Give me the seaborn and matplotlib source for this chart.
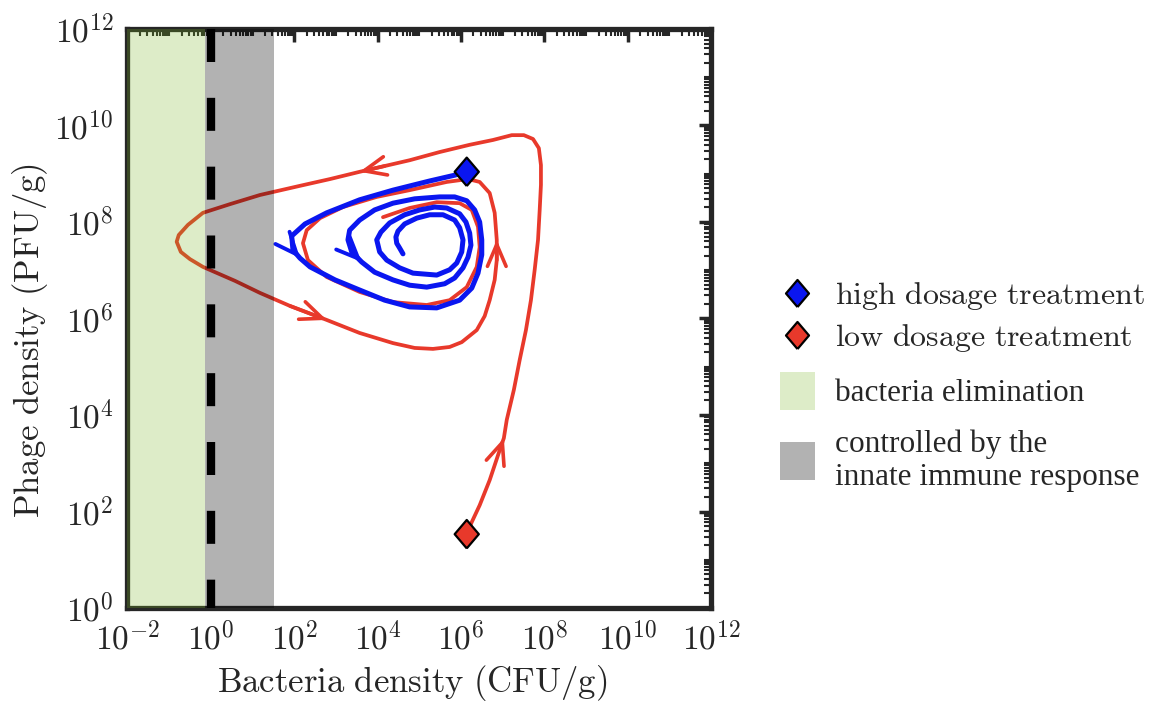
import numpy as np
import matplotlib
matplotlib.use("Agg")
import matplotlib.pyplot as plt
import seaborn as sns
from matplotlib.ticker import FixedLocator, LogLocator, FuncFormatter, NullFormatter
from matplotlib.lines import Line2D
from matplotlib.patches import Patch

# ---------------- data (log10 values) ----------------
red_logB = [6.14, 6.26, 6.45, 6.69, 6.93, 7.03, 7.10, 7.27, 7.41, 7.56,
            7.68, 7.77, 7.85, 7.89, 7.92, 7.92, 7.87, 7.73, 7.51, 7.22,
            6.77, 6.21, 5.49, 4.77, 4.17, 3.57, 2.86, 2.14, 1.18, 0.46,
            -0.19, -0.55, -0.77, -0.82, -0.72, -0.50, -0.19, 0.58, 1.18, 1.90,
            2.78, 3.57, 4.37, 4.89, 5.33, 5.73, 6.02, 6.38, 6.57, 6.69,
            6.81, 6.86, 6.86, 6.81, 6.69, 6.45, 6.17, 5.66, 4.77, 3.98,
            3.17, 2.62, 2.30, 2.21, 2.33, 2.78, 3.57, 4.37, 5.18, 5.73,
            6.14, 6.38, 6.45, 6.41, 6.26, 5.97, 5.42, 4.77, 4.13]
red_logP = [1.53, 1.78, 2.13, 2.65, 3.27, 3.52, 3.90, 4.52, 5.14, 5.76,
            6.38, 7.01, 7.63, 8.25, 8.77, 9.18, 9.53, 9.72, 9.80, 9.80,
            9.70, 9.60, 9.45, 9.28, 9.16, 9.04, 8.89, 8.75, 8.56, 8.37,
            8.19, 7.94, 7.73, 7.59, 7.38, 7.23, 7.07, 6.78, 6.53, 6.26,
            5.97, 5.70, 5.49, 5.39, 5.37, 5.41, 5.51, 5.76, 6.05, 6.38,
            6.80, 7.21, 7.63, 8.19, 8.60, 8.83, 8.89, 8.83, 8.66, 8.52,
            8.31, 8.08, 7.83, 7.56, 7.21, 6.86, 6.55, 6.34, 6.28, 6.38,
            6.65, 7.07, 7.48, 7.90, 8.25, 8.39, 8.41, 8.29, 8.10]
red_arrow_idx = [5, 25, 40, 52]

blue_logB = [6.14, 5.85, 5.25, 4.37, 3.57, 2.78, 2.26, 1.94, 1.97, 2.14,
             2.38, 2.98, 3.57, 4.17, 4.77, 5.42, 5.97, 6.26, 6.41, 6.50,
             6.50, 6.45, 6.33, 6.14, 5.85, 5.49, 4.89, 4.37, 3.93, 3.57,
             3.33, 3.29, 3.38, 3.62, 3.93, 4.37, 4.77, 5.18, 5.61, 5.85,
             6.05, 6.17, 6.24, 6.21, 6.12, 5.97, 5.66, 5.37, 5.01, 4.65,
             4.29, 4.08, 3.98, 4.05, 4.22, 4.53, 4.85, 5.42, 5.73, 5.90,
             6.02, 6.05, 5.97, 5.85, 5.57, 5.25, 4.94, 4.65, 4.49, 4.44,
             4.46, 4.53, 4.61]
blue_logP = [9.04, 8.97, 8.85, 8.66, 8.46, 8.19, 7.96, 7.71, 7.42, 7.25,
             7.07, 6.80, 6.59, 6.38, 6.24, 6.22, 6.38, 6.63, 6.94, 7.32,
             7.63, 8.00, 8.25, 8.44, 8.52, 8.52, 8.48, 8.39, 8.25, 8.04,
             7.83, 7.63, 7.38, 7.17, 6.96, 6.80, 6.69, 6.65, 6.72, 6.84,
             7.05, 7.27, 7.52, 7.77, 8.00, 8.17, 8.29, 8.31, 8.25, 8.15,
             7.98, 7.79, 7.63, 7.38, 7.21, 7.05, 6.94, 6.90, 7.01, 7.15,
             7.38, 7.63, 7.88, 8.04, 8.15, 8.15, 8.08, 7.96, 7.81, 7.69,
             7.56, 7.46, 7.34]
blue_arrow_idx = [9, 33]

treatments = ["high dosage treatment", "low dosage treatment"]
start_logB = [6.14, 6.14]
start_logP = [9.04, 1.53]

elim_range = [1e-2, 0.72]        # bacteria elimination region (CFU/g)
innate_range = [0.72, 33.0]      # controlled by innate immune response
immune_threshold = 1.0
region_labels = ["bacteria elimination", "controlled by the\ninnate immune response"]

x_ticks_exp = [-2, 0, 2, 4, 6, 8, 10, 12]
y_ticks_exp = [0, 2, 4, 6, 8, 10, 12]

RED = "#E8392B"
BLUE = "#0A16F0"
GREEN = (120 / 255, 180 / 255, 36 / 255)
FRAME = "#262626"

# ---------------- style ----------------
sns.set_style("white")
plt.rcParams["mathtext.fontset"] = "cm"
plt.rcParams["font.family"] = ["DejaVu Serif"]

fig = plt.figure(figsize=(11.61, 7.02), dpi=100)
ax = fig.add_axes([0.1098, 0.1339, 0.5026, 0.8248])
ax.set_xscale("log")
ax.set_yscale("log")

# trajectories
sns.lineplot(x=10.0 ** np.array(red_logB), y=10.0 ** np.array(red_logP), sort=False,
             estimator=None, color=RED, lw=2.7, ax=ax, zorder=2,
             solid_capstyle="round", solid_joinstyle="round")
sns.lineplot(x=10.0 ** np.array(blue_logB), y=10.0 ** np.array(blue_logP), sort=False,
             estimator=None, color=BLUE, lw=3.6, ax=ax, zorder=2.1,
             solid_capstyle="round", solid_joinstyle="round")

arrow_style = "->,head_length=0.75,head_width=0.32"
for idxs, bx, py, col, lw in [(red_arrow_idx, red_logB, red_logP, RED, 2.6),
                               (blue_arrow_idx, blue_logB, blue_logP, BLUE, 2.8)]:
    for i in idxs:
        ax.annotate("", xy=(10.0 ** bx[i], 10.0 ** py[i]),
                    xytext=(10.0 ** bx[i - 1], 10.0 ** py[i - 1]),
                    arrowprops=dict(arrowstyle=arrow_style, color=col, lw=lw,
                                    shrinkA=0, shrinkB=0, mutation_scale=21),
                    zorder=2.2)

# starting points
diamond = [(0, -1), (0.85, 0), (0, 1), (-0.85, 0), (0, -1)]
sns.scatterplot(x=10.0 ** np.array(start_logB), y=10.0 ** np.array(start_logP),
                hue=treatments, palette=[BLUE, RED], marker=diamond, s=420,
                edgecolor="black", linewidth=1.6, ax=ax, zorder=6, legend=False)

# regions
ax.axvspan(elim_range[0], elim_range[1], color=GREEN, alpha=0.25, lw=0, zorder=3)
ax.axvspan(innate_range[0], innate_range[1], color="black", alpha=0.3, lw=0, zorder=3)
ax.plot([immune_threshold, immune_threshold], [1e12, 1e0], color="black", lw=6,
        dashes=(3.96, 4.3), solid_capstyle="butt", dash_capstyle="butt", zorder=5,
        clip_on=False)

# axes
ax.set_xlim(1e-2, 1e12)
ax.set_ylim(1e0, 1e12)
fmt = FuncFormatter(lambda v, p: r"$10^{%d}$" % int(round(np.log10(v))))
ax.xaxis.set_major_locator(FixedLocator(10.0 ** np.array(x_ticks_exp)))
ax.yaxis.set_major_locator(FixedLocator(10.0 ** np.array(y_ticks_exp)))
ax.xaxis.set_major_formatter(fmt)
ax.yaxis.set_major_formatter(fmt)
ax.xaxis.set_minor_locator(LogLocator(base=10, subs=np.arange(1, 10), numticks=200))
ax.yaxis.set_minor_locator(LogLocator(base=10, subs=np.arange(1, 10), numticks=200))
ax.xaxis.set_minor_formatter(NullFormatter())
ax.yaxis.set_minor_formatter(NullFormatter())
ax.tick_params(which="both", direction="in", top=True, right=True, color=FRAME)
ax.tick_params(which="major", length=9, width=2.5, labelsize=24, pad=10, labelcolor="#262626")
ax.tick_params(which="minor", length=5, width=1.5)
for sp in ax.spines.values():
    sp.set_linewidth(3.8)
    sp.set_color(FRAME)
    sp.set_visible(True)

ax.set_xlabel(r"$\mathrm{Bacteria\ density\ (CFU/g)}$", fontsize=25, color="#262626")
ax.set_ylabel(r"$\mathrm{Phage\ density\ (PFU/g)}$", fontsize=25, color="#262626")
ax.xaxis.set_label_coords(0.488, -0.095)
ax.yaxis.set_label_coords(-0.133, 0.462)

# legends
h1 = [Line2D([], [], ls="", marker=diamond, ms=19.5, mfc=c, mec="black", mew=1.6)
      for c in (BLUE, RED)]
lab1 = [r"$\mathrm{%s}$" % t.replace(" ", r"\ ") for t in treatments]
leg1 = fig.legend(h1, lab1, loc="center left",
                  bbox_to_anchor=(782 / 1161, 1 - 317 / 702), frameon=False,
                  fontsize=23, handlelength=0.96, handletextpad=0.7,
                  labelspacing=0.3, borderpad=0, borderaxespad=0)
h2 = [Patch(facecolor=GREEN, alpha=0.25, lw=0), Patch(facecolor="black", alpha=0.3, lw=0)]
leg2 = fig.legend(h2, region_labels, loc="upper left",
                  bbox_to_anchor=(780 / 1161, 1 - 372 / 702), frameon=False,
                  prop={"family": "Liberation Serif", "size": 22.5},
                  handlelength=1.12, handleheight=1.48, handletextpad=0.63,
                  labelspacing=0.62, borderpad=0, borderaxespad=0)

fig.savefig("out.png", dpi=100)
